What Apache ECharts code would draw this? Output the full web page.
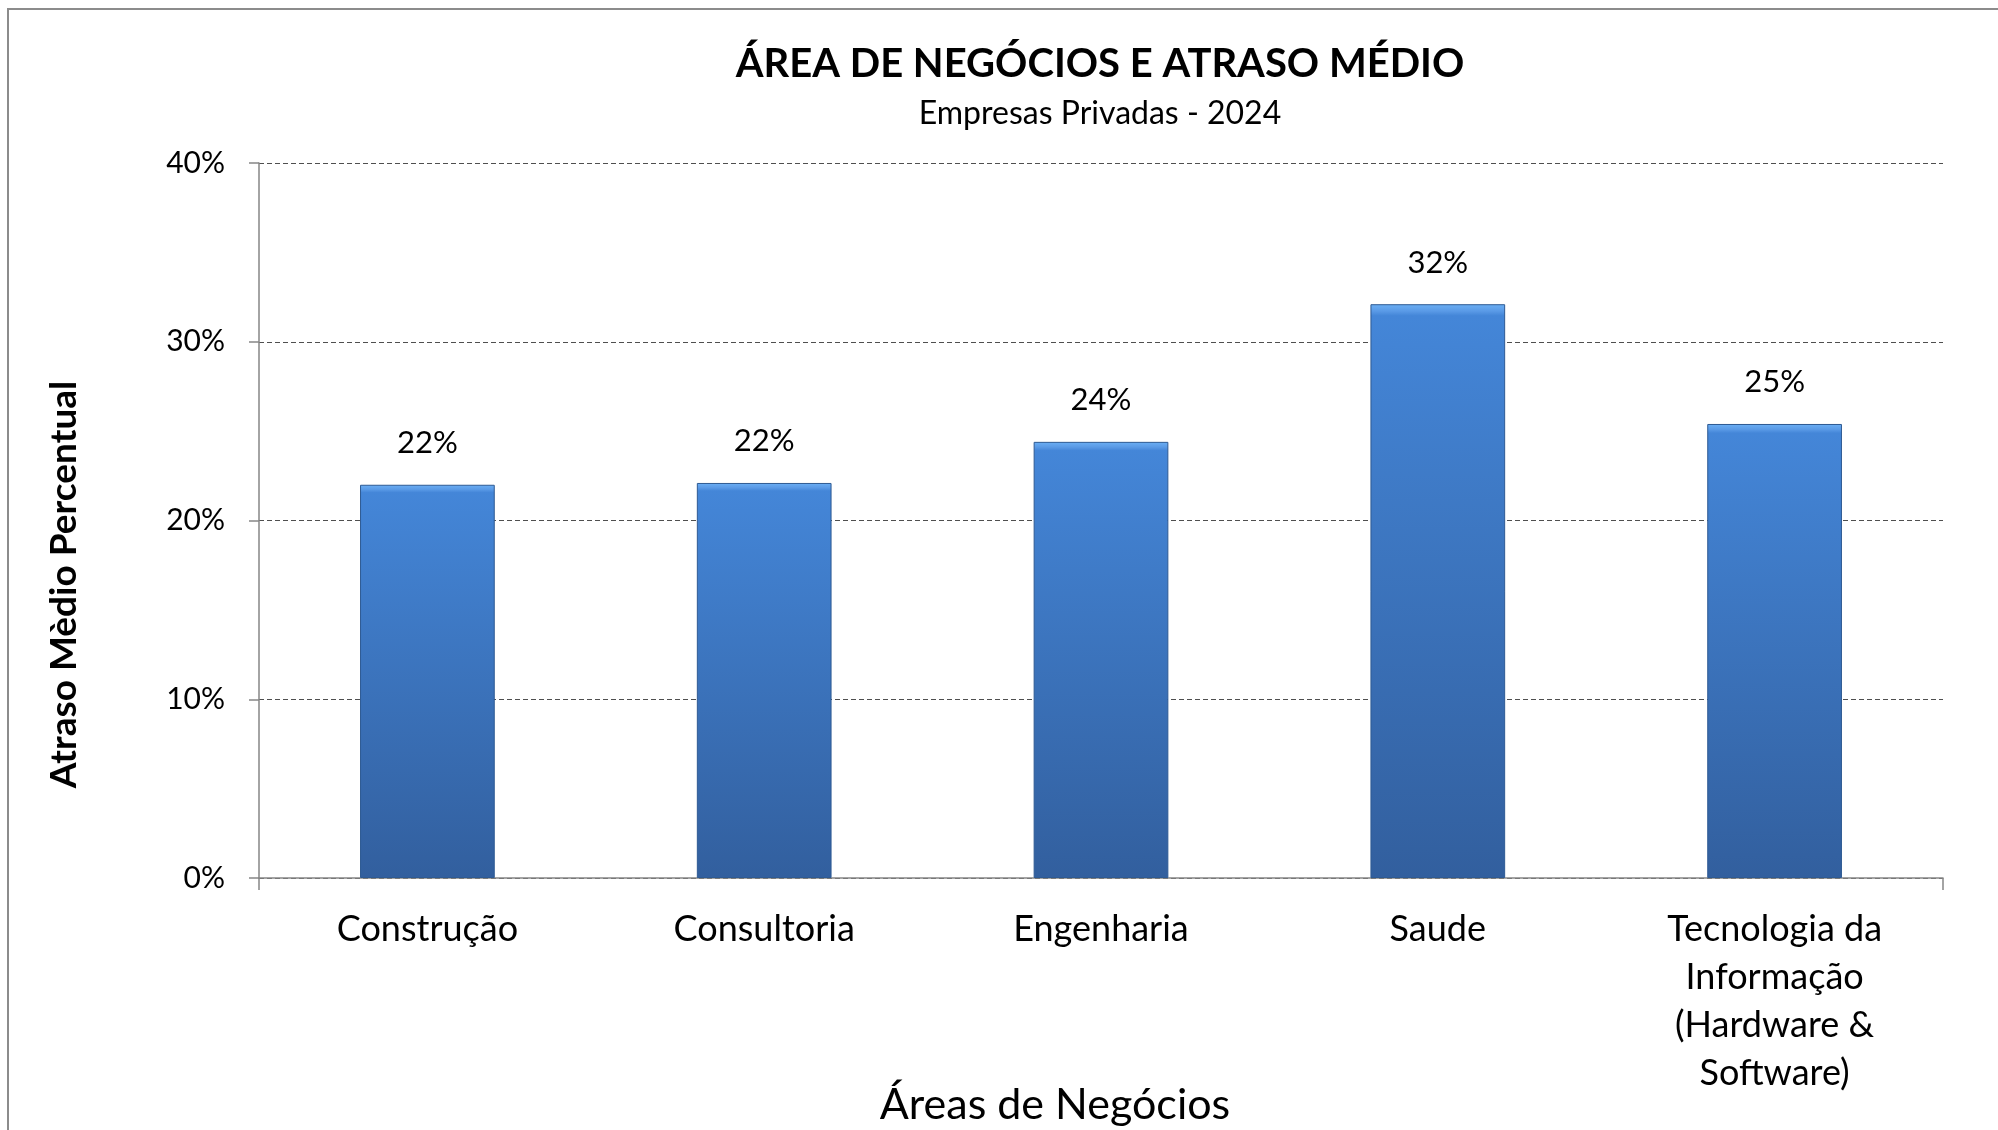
<!DOCTYPE html>
<html>
<head>
<meta charset="utf-8">
<title>Área de Negócios e Atraso Médio</title>
<script src="https://cdn.jsdelivr.net/npm/echarts@6/dist/echarts.min.js"></script>
<style>
  html, body { margin: 0; padding: 0; background: #fff; }
  #chart { width: 1998px; height: 1130px; }
</style>
</head>
<body>
<div id="chart"></div>
<script>
// data
const areas = [
  'Construção',
  'Consultoria',
  'Engenharia',
  'Saude',
  'Tecnologia da\nInformação\n(Hardware &\nSoftware)'
];
const atrasoMedio = [22.0, 22.1, 24.4, 32.1, 25.4];
const yTicks = [0, 10, 20, 30, 40];

const font = 'Lato, "Open Sans", sans-serif';

let myChart = echarts.init(document.getElementById('chart'));
myChart.setOption({
  animation: false,
  title: {
    text: 'ÁREA DE NEGÓCIOS E ATRASO MÉDIO',
    subtext: 'Empresas Privadas - 2024',
    left: 1095,
    top: 39,
    textAlign: 'center',
    itemGap: 14,
    textStyle: { fontFamily: font, fontWeight: 'bold', fontSize: 40, color: '#000' },
    subtextStyle: { fontFamily: font, fontSize: 32, color: '#000' }
  },
  // outer frame of the chart box (only top and left edge show)
  graphic: [{
    type: 'rect',
    shape: { x: 8, y: 9, width: 2100, height: 1300 },
    style: { fill: 'none', stroke: '#8c8c8c', lineWidth: 2 },
    silent: true
  }],
  grid: {
    left: 259,
    right: 55,
    top: 163,
    bottom: 252,
    outerBoundsMode: 'none'
  },
  xAxis: {
    type: 'category',
    data: areas,
    name: 'Áreas de Negócios',
    nameLocation: 'middle',
    nameGap: 206,
    nameMoveOverlap: false,
    nameTextStyle: { fontFamily: font, fontSize: 43, color: '#000', padding: [0, 92, 0, 0] },
    axisLine: { lineStyle: { color: '#868686', width: 1.5 } },
    axisTick: {
      show: true,
      length: 12,
      interval: function (i) { return i === 0; },
      lineStyle: { color: '#868686', width: 1.5 }
    },
    axisLabel: {
      interval: 0,
      margin: 27,
      fontFamily: font,
      fontSize: 36,
      lineHeight: 48,
      color: '#000'
    },
    splitLine: { show: false }
  },
  yAxis: {
    type: 'value',
    min: yTicks[0],
    max: yTicks[yTicks.length - 1],
    interval: 10,
    name: 'Atraso Mèdio Percentual',
    nameLocation: 'middle',
    nameGap: 176,
    nameMoveOverlap: false,
    nameRotate: 90,
    nameTextStyle: { fontFamily: font, fontWeight: 'bold', fontSize: 37, color: '#000', padding: [0, 128, 0, 0] },
    axisLine: { show: true, lineStyle: { color: '#868686', width: 1.5 } },
    axisTick: { show: true, length: 10, lineStyle: { color: '#868686', width: 1.5 } },
    axisLabel: {
      margin: 34,
      fontFamily: font,
      fontSize: 30,
      color: '#000',
      formatter: '{value}%'
    },
    splitLine: {
      lineStyle: { color: '#4f4f4f', width: 1.2, type: [5, 3] }
    }
  },
  series: [{
    name: 'Atraso Médio',
    type: 'bar',
    data: atrasoMedio,
    barWidth: '40%',
    itemStyle: {
      color: new echarts.graphic.LinearGradient(0, 0, 0, 1, [
        { offset: 0, color: '#6cb0f5' },
        { offset: 0.012, color: '#5a9ae6' },
        { offset: 0.02, color: '#4486d8' },
        { offset: 1, color: '#325f9e' }
      ]),
      borderColor: '#2e5a93',
      borderWidth: 1
    },
    label: {
      show: true,
      position: 'top',
      distance: 26,
      fontFamily: font,
      fontSize: 31,
      color: '#000',
      formatter: function (p) { return Math.round(p.value) + '%'; }
    }
  }]
});
</script>
</body>
</html>
